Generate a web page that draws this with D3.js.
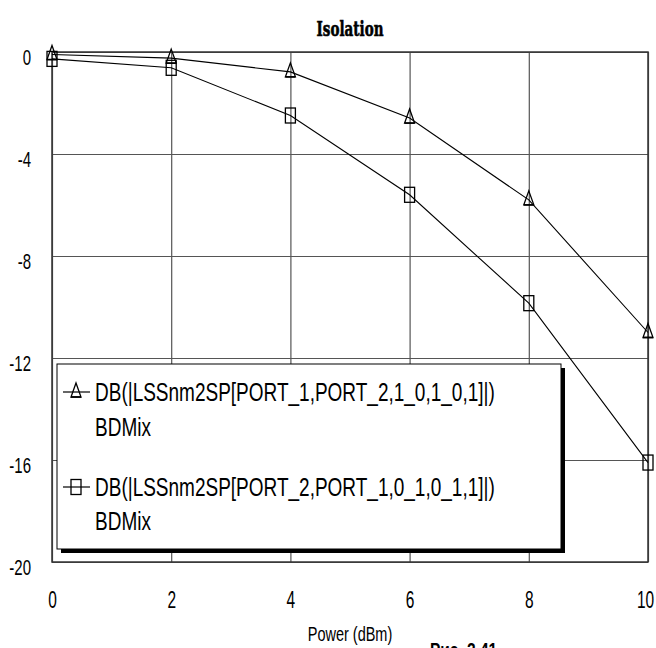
<!DOCTYPE html>
<html><head><meta charset="utf-8">
<script src="https://cdn.jsdelivr.net/npm/d3@7"></script>
<style>html,body{margin:0;padding:0;background:#fff;overflow:hidden}svg{display:block}</style>
</head><body>
<svg id="c" width="656" height="648"></svg>
<script>
const powerDbm = [0, 2, 4, 6, 8, 10];
const s21Values = [-0.1, -0.24, -0.78, -2.59, -5.8, -11.0];
const s12Values = [-0.27, -0.62, -2.49, -5.6, -9.85, -16.1];
const xTickValues = [0, 2, 4, 6, 8, 10];
const yTickValues = [0, -4, -8, -12, -16, -20];
const seriesNames = ["DB(|LSSnm2SP[PORT_1,PORT_2,1_0,1_0,1]|)", "DB(|LSSnm2SP[PORT_2,PORT_1,0_1,0_1,1]|)"];
const seriesSub = ["BDMix", "BDMix"];
const titleText = "Isolation";
const xLabel = "Power (dBm)";
const noteText = "Рис. 2.41";

const svg = d3.select("#c");
const L = 52, R = 648, T = 52, B = 562;
const x = d3.scaleLinear().domain([0, 10]).range([L, R]);
const y = d3.scaleLinear().domain([-20, 0]).range([B, T]);
const FONT = "'Liberation Sans', Arial, sans-serif";

function stretchText(sel, tx, ty, sy) {
  sel.attr("x", 0).attr("y", 0).attr("dy", null)
     .attr("transform", `translate(${tx},${ty}) scale(1,${sy})`);
}

// grid
const grid = svg.append("g");
grid.append("g").attr("transform", `translate(0,${B})`)
  .call(d3.axisBottom(x).tickValues(xTickValues).tickSize(-(B - T)).tickFormat(""))
  .call(g => g.select(".domain").remove())
  .call(g => g.selectAll("line").attr("stroke", "#555").attr("stroke-width", 1.2));
grid.append("g").attr("transform", `translate(${L},0)`)
  .call(d3.axisLeft(y).tickValues(yTickValues).tickSize(-(R - L)).tickFormat(""))
  .call(g => g.select(".domain").remove())
  .call(g => g.selectAll("line").attr("stroke", "#555").attr("stroke-width", 1.2));

svg.append("rect").attr("x", L).attr("y", T).attr("width", R - L).attr("height", B - T)
  .attr("fill", "none").attr("stroke", "#333").attr("stroke-width", 1.5);

// series
const line = d3.line().x((d, i) => x(powerDbm[i])).y(d => y(d));
[s21Values, s12Values].forEach(vals => {
  svg.append("path").datum(vals).attr("d", line)
    .attr("fill", "none").attr("stroke", "#000").attr("stroke-width", 1.1);
});
function triangle(g, cx, cy) {
  g.append("path").attr("d", `M${cx},${cy - 9} L${cx + 5},${cy + 5} L${cx - 5},${cy + 5} Z`)
    .attr("fill", "none").attr("stroke", "#000").attr("stroke-width", 1.3);
  g.append("line").attr("x1", cx - 5).attr("x2", cx + 5).attr("y1", cy + 5).attr("y2", cy + 5)
    .attr("stroke", "#000").attr("stroke-width", 1.6);
}
function square(g, cx, cy) {
  g.append("rect").attr("x", cx - 5).attr("y", cy - 7.5).attr("width", 10).attr("height", 15)
    .attr("fill", "none").attr("stroke", "#000").attr("stroke-width", 1.3);
}
const mk = svg.append("g");
s21Values.forEach((v, i) => triangle(mk, x(powerDbm[i]), y(v)));
s12Values.forEach((v, i) => square(mk, x(powerDbm[i]), y(v)));

// legend
const lg = svg.append("g");
const lx = 57, ly = 364, lw = 504, lh = 185;
lg.append("rect").attr("x", lx + 4).attr("y", ly + 4).attr("width", lw).attr("height", lh).attr("fill", "#000");
lg.append("rect").attr("x", lx).attr("y", ly).attr("width", lw).attr("height", lh)
  .attr("fill", "#fff").attr("stroke", "#000").attr("stroke-width", 1);
const entryY = [[392, 427], [487, 521]];
seriesNames.forEach((name, i) => {
  const cy = entryY[i][0];
  lg.append("line").attr("x1", 63).attr("x2", 90).attr("y1", cy).attr("y2", cy)
    .attr("stroke", "#000").attr("stroke-width", 1.2);
  if (i === 0) triangle(lg, 76, cy); else square(lg, 76, cy);
  lg.append("text").text(name).attr("font-family", FONT).attr("font-size", 19)
    .attr("fill", "#000").attr("dominant-baseline", "central")
    .call(s => stretchText(s, 95, cy, 1.35));
  lg.append("text").text(seriesSub[i]).attr("font-family", FONT).attr("font-size", 19)
    .attr("fill", "#000").attr("dominant-baseline", "central")
    .call(s => stretchText(s, 95, entryY[i][1], 1.35));
});

// tick labels
const xa = svg.append("g").attr("transform", `translate(0,600)`)
  .call(d3.axisBottom(x).tickValues(xTickValues).tickSize(0).tickFormat(d => String(d)));
xa.select(".domain").remove();
xa.selectAll("text").attr("font-family", FONT).attr("font-size", 15.5).attr("fill", "#000")
  .attr("text-anchor", "middle").attr("dominant-baseline", "central")
  .each(function (d) { stretchText(d3.select(this), d === 10 ? -3 : 0, 0, 1.5); });

const ya = svg.append("g").attr("transform", `translate(31,0)`)
  .call(d3.axisLeft(y).tickValues(yTickValues).tickSize(0).tickFormat(d => String(d)));
ya.select(".domain").remove();
ya.selectAll("text").attr("font-family", FONT).attr("font-size", 15).attr("fill", "#000")
  .attr("text-anchor", "end").attr("dominant-baseline", "central")
  .each(function () { stretchText(d3.select(this), 0, 5, 1.5); });

// title and labels
svg.append("text").text(titleText).attr("font-family", "'DejaVu Serif', serif")
  .attr("font-weight", "bold").attr("font-size", 13.5).attr("text-anchor", "middle")
  .attr("stroke", "#000").attr("stroke-width", 0.4)
  .attr("dominant-baseline", "central").call(s => stretchText(s, 350, 29, 1.45));
svg.append("text").text(xLabel).attr("font-family", FONT).attr("font-size", 14.5)
  .attr("text-anchor", "middle").attr("dominant-baseline", "central")
  .call(s => stretchText(s, 350, 634, 1.4));
svg.append("text").text(noteText).attr("font-family", FONT).attr("font-weight", "bold")
  .attr("font-size", 15.5).call(s => stretchText(s, 430, 657, 1.35));
</script>
</body></html>
